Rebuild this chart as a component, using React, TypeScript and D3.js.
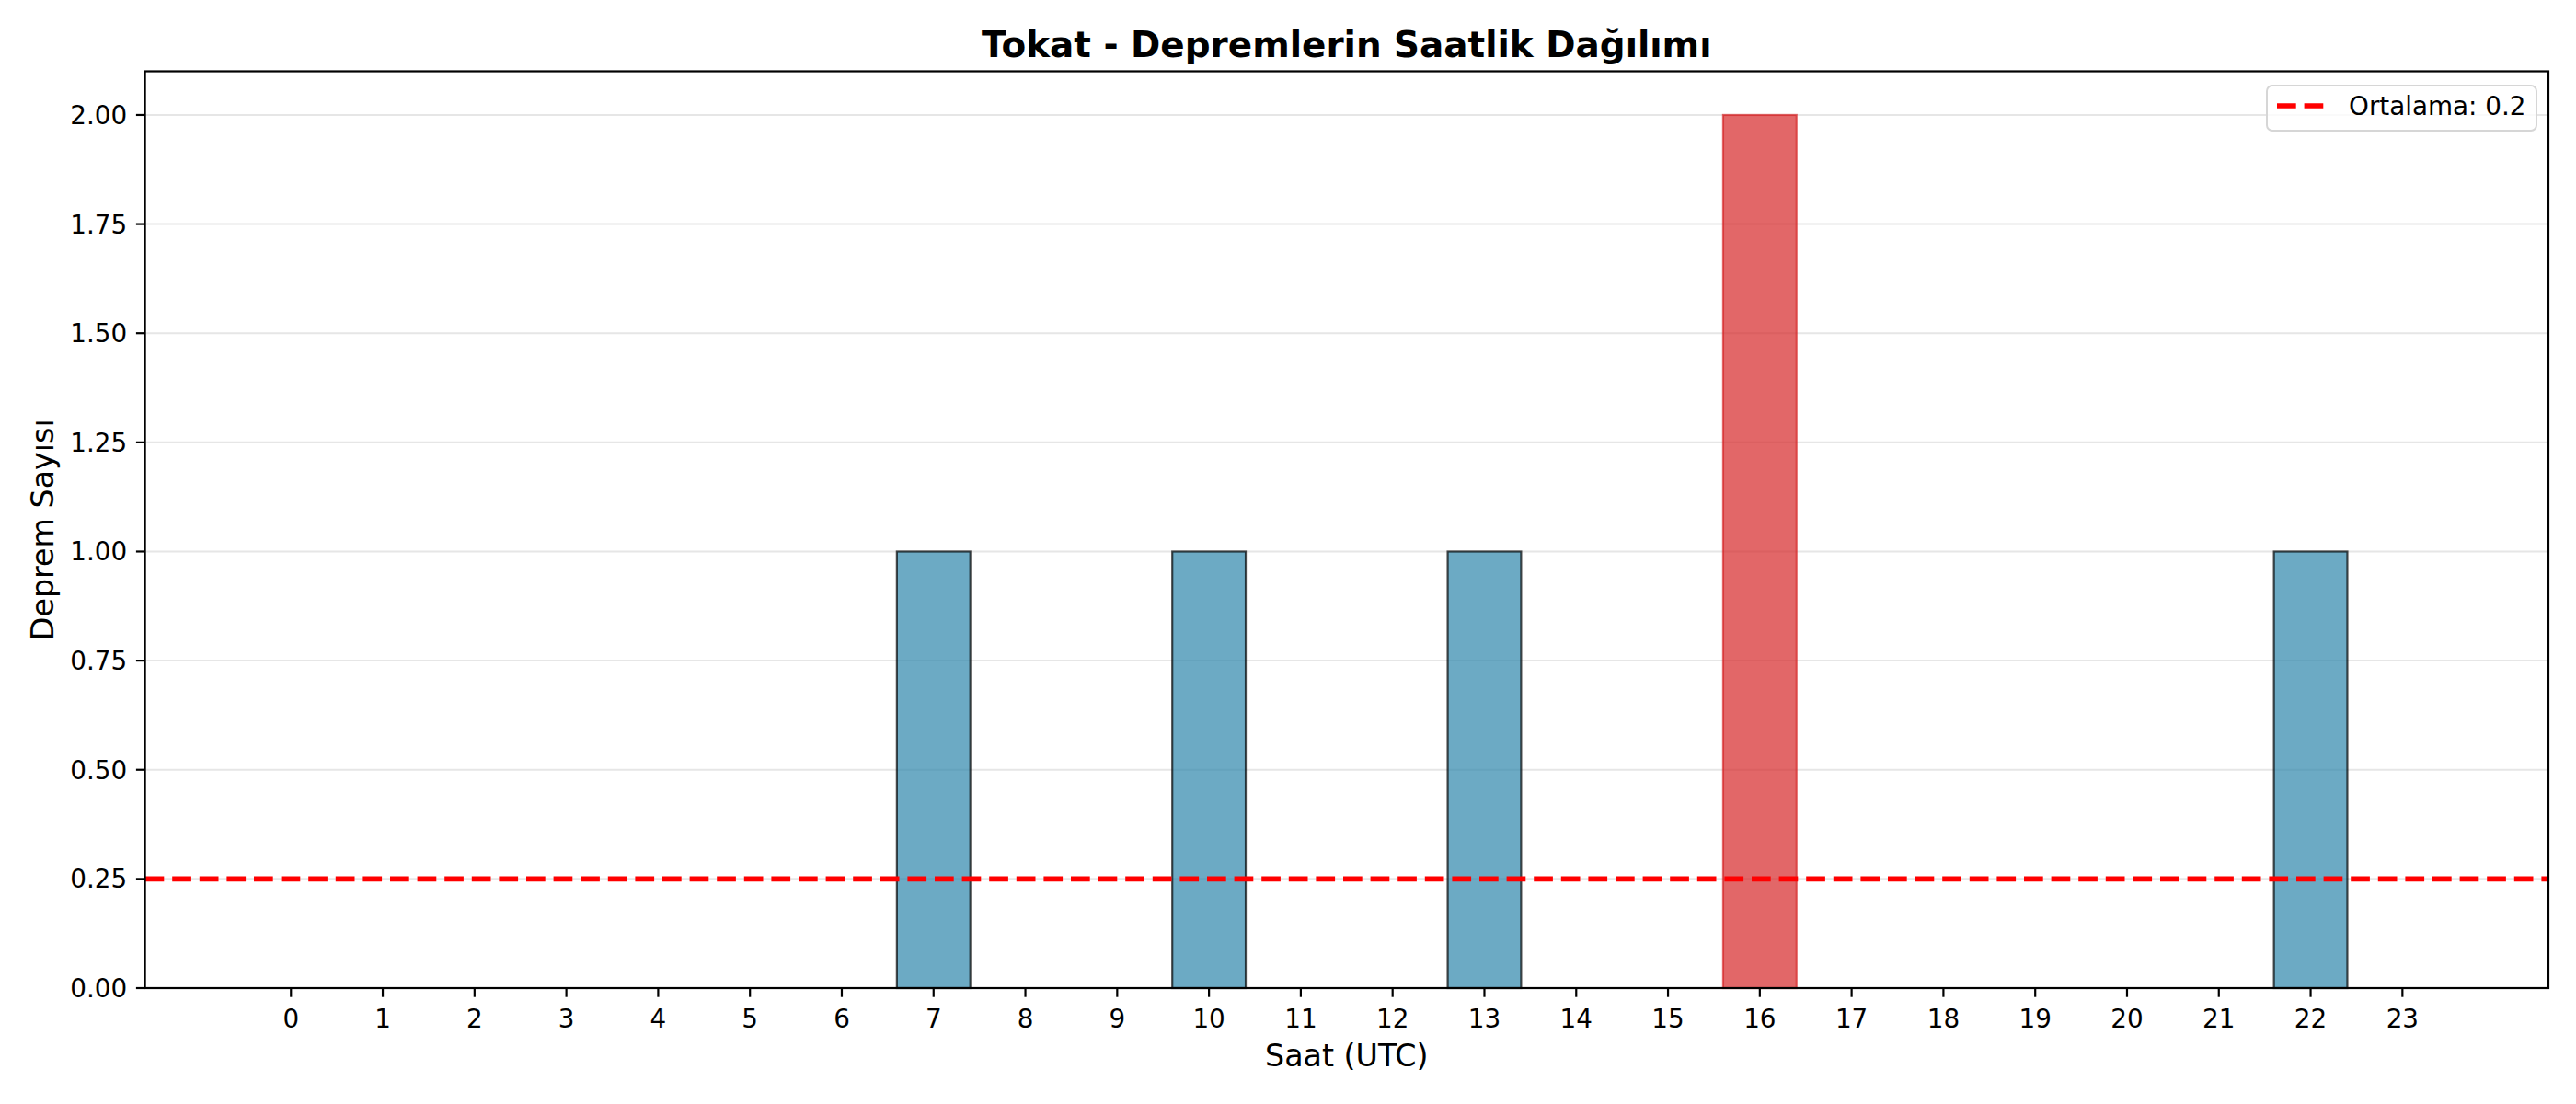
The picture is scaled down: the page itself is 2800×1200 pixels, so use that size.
import { useEffect, useRef } from "react"
import * as d3 from "d3"

// hourly earthquake counts for Tokat (UTC hours)
const hours = [0, 1, 2, 3, 4, 5, 6, 7, 8, 9, 10, 11, 12, 13, 14, 15, 16, 17, 18, 19, 20, 21, 22, 23]
const counts = [0, 0, 0, 0, 0, 0, 0, 1, 0, 0, 1, 0, 0, 1, 0, 0, 2, 0, 0, 0, 0, 0, 1, 0]
const yTicks = [0, 0.25, 0.5, 0.75, 1.0, 1.25, 1.5, 1.75, 2.0]
const meanLabel = "Ortalama: 0.2"

const W = 2800
const H = 1200
const FONT = "'DejaVu Sans', sans-serif"

export default function App() {
  const svgRef = useRef<SVGSVGElement>(null)

  useEffect(() => {
    if (!svgRef.current) return
    const svg = d3.select(svgRef.current)
    svg.selectAll("*").remove()

    const margin = { top: 77.5, right: 30, bottom: 126, left: 157.6 }
    const barW = 0.8
    const lo = d3.min(hours)! - barW / 2
    const hi = d3.max(hours)! + barW / 2
    const pad = (hi - lo) * 0.05

    const x = d3.scaleLinear().domain([lo - pad, hi + pad]).range([margin.left, W - margin.right])
    const y = d3.scaleLinear().domain([0, 2.1]).range([H - margin.bottom, margin.top])

    const maxVal = d3.max(counts)!
    const mean = d3.mean(counts)!

    svg.append("rect").attr("width", W).attr("height", H).attr("fill", "#fff")

    // grid
    svg.append("g")
      .selectAll("line")
      .data(yTicks)
      .join("line")
      .attr("x1", x.range()[0])
      .attr("x2", x.range()[1])
      .attr("y1", (d) => y(d))
      .attr("y2", (d) => y(d))
      .attr("stroke", "#e6e6e6")
      .attr("stroke-width", 2)

    // bars
    const data = hours.map((h, i) => ({ h, v: counts[i] }))
    svg.append("g")
      .selectAll("rect")
      .data(data.filter((d) => d.v > 0))
      .join("rect")
      .attr("x", (d) => x(d.h - barW / 2))
      .attr("width", (d) => x(d.h + barW / 2) - x(d.h - barW / 2))
      .attr("y", (d) => y(d.v))
      .attr("height", (d) => y(0) - y(d.v))
      .attr("fill", (d) => (d.v === maxVal ? "rgba(214,39,40,0.7)" : "rgba(46,134,171,0.7)"))
      .attr("stroke", (d) => (d.v === maxVal ? "rgba(214,39,40,0.7)" : "rgba(0,0,0,0.7)"))
      .attr("stroke-width", 2.2)

    // mean line
    svg.append("line")
      .attr("x1", x.range()[0])
      .attr("x2", x.range()[1])
      .attr("y1", y(mean))
      .attr("y2", y(mean))
      .attr("stroke", "#ff0000")
      .attr("stroke-width", 5.6)
      .attr("stroke-dasharray", "20.7 8.9")

    // spines
    svg.append("rect")
      .attr("x", x.range()[0])
      .attr("y", y.range()[1])
      .attr("width", x.range()[1] - x.range()[0])
      .attr("height", y.range()[0] - y.range()[1])
      .attr("fill", "none")
      .attr("stroke", "#000")
      .attr("stroke-width", 2.2)

    // x axis
    const xAxis = svg.append("g").attr("transform", `translate(0,${y(0)})`)
    xAxis.selectAll("line")
      .data(hours)
      .join("line")
      .attr("x1", (d) => x(d))
      .attr("x2", (d) => x(d))
      .attr("y1", 0)
      .attr("y2", 9.7)
      .attr("stroke", "#000")
      .attr("stroke-width", 2.2)
    xAxis.selectAll("text")
      .data(hours)
      .join("text")
      .attr("x", (d) => x(d))
      .attr("y", 43)
      .attr("text-anchor", "middle")
      .attr("font-family", FONT)
      .attr("font-size", 27.8)
      .attr("fill", "#000")
      .text((d) => String(d))

    // y axis
    const yAxis = svg.append("g").attr("transform", `translate(${x.range()[0]},0)`)
    yAxis.selectAll("line")
      .data(yTicks)
      .join("line")
      .attr("x1", -9.7)
      .attr("x2", 0)
      .attr("y1", (d) => y(d))
      .attr("y2", (d) => y(d))
      .attr("stroke", "#000")
      .attr("stroke-width", 2.2)
    yAxis.selectAll("text")
      .data(yTicks)
      .join("text")
      .attr("x", -19.4)
      .attr("y", (d) => y(d))
      .attr("dy", "0.36em")
      .attr("text-anchor", "end")
      .attr("font-family", FONT)
      .attr("font-size", 27.8)
      .attr("fill", "#000")
      .text((d) => d3.format(".2f")(d))

    const cx = (x.range()[0] + x.range()[1]) / 2
    const cy = (y.range()[0] + y.range()[1]) / 2

    // title and labels
    svg.append("text")
      .attr("x", cx)
      .attr("y", 61.5)
      .attr("text-anchor", "middle")
      .attr("font-family", FONT)
      .attr("font-weight", "bold")
      .attr("font-size", 38.9)
      .text("Tokat - Depremlerin Saatlik Dağılımı")

    svg.append("text")
      .attr("x", cx)
      .attr("y", 1159)
      .attr("text-anchor", "middle")
      .attr("font-family", FONT)
      .attr("font-size", 33.3)
      .text("Saat (UTC)")

    svg.append("text")
      .attr("transform", `translate(58,${cy}) rotate(-90)`)
      .attr("text-anchor", "middle")
      .attr("font-family", FONT)
      .attr("font-size", 33.3)
      .text("Deprem Sayısı")

    // legend
    const lg = svg.append("g")
    lg.append("rect")
      .attr("x", 2464)
      .attr("y", 93)
      .attr("width", 293)
      .attr("height", 49)
      .attr("rx", 6)
      .attr("fill", "rgba(255,255,255,0.8)")
      .attr("stroke", "#d6d6d6")
      .attr("stroke-width", 2)
    lg.append("line")
      .attr("x1", 2475)
      .attr("x2", 2530)
      .attr("y1", 115)
      .attr("y2", 115)
      .attr("stroke", "#ff0000")
      .attr("stroke-width", 5.6)
      .attr("stroke-dasharray", "20.7 8.9")
    lg.append("text")
      .attr("x", 2553)
      .attr("y", 125)
      .attr("font-family", FONT)
      .attr("font-size", 27.8)
      .attr("fill", "#000")
      .text(meanLabel)
  }, [])

  return (
    <div style={{ position: "absolute", left: 0, top: 0 }}>
      <svg ref={svgRef} width={W} height={H} style={{ display: "block" }} />
    </div>
  )
}
